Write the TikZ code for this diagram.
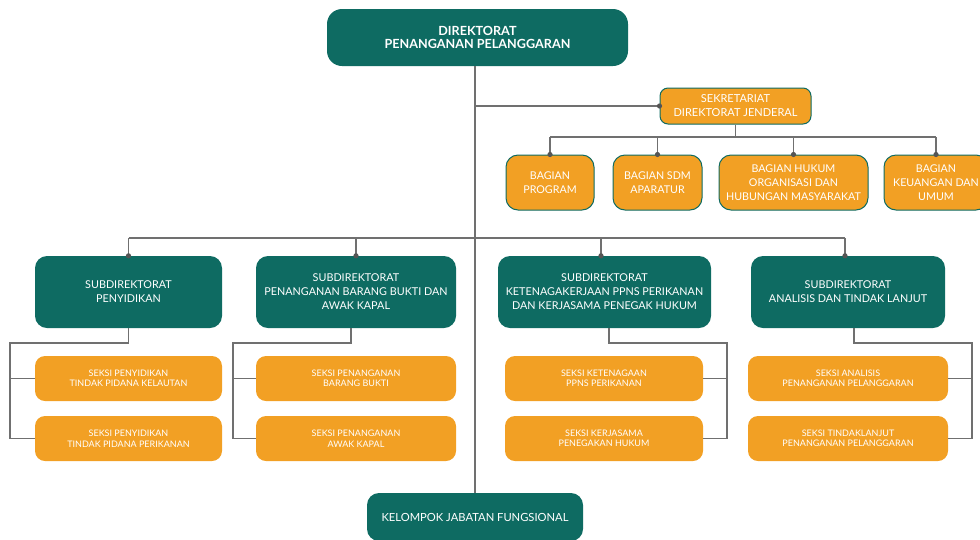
\documentclass[tikz,border=0pt]{standalone}
\usepackage{fontspec}
\setmainfont{Lato}
\definecolor{dteal}{RGB}{14,107,98}
\definecolor{org}{RGB}{242,160,36}
\definecolor{wire}{RGB}{112,112,112}
\definecolor{dotc}{RGB}{85,85,85}
\begin{document}
\begin{tikzpicture}[x=1pt,y=-1pt,
  box/.style={align=center, text=white, inner sep=0pt},
  headbox/.style={box, fill=dteal, rounded corners=15pt, font=\bfseries\fontsize{12.6}{13.5}\selectfont},
  subbox/.style={box, fill=dteal, rounded corners=12pt, minimum height=72pt, font=\fontsize{10.8}{14}\selectfont},
  secbox/.style={box, fill=org, draw=dteal, line width=1pt, rounded corners=8pt, font=\fontsize{11}{14}\selectfont},
  partbox/.style={box, fill=org, draw=dteal, line width=1pt, rounded corners=12pt, minimum height=55pt, font=\fontsize{10.7}{14}\selectfont},
  unitbox/.style={box, fill=org, rounded corners=10pt, minimum height=45pt, font=\fontsize{9}{10.5}\selectfont},
  link/.style={draw=wire, line width=1.2pt},
  joint/.style={fill=dotc}
]
\useasboundingbox (0,0) rectangle (980,539);

% top and bottom units
\node[headbox, minimum width=301pt, minimum height=57pt] (dir) at (477.5,37.5) {DIREKTORAT\\PENANGANAN PELANGGARAN};
\node[subbox, minimum width=216pt, minimum height=48pt, font=\fontsize{11.2}{14}\selectfont] (kel) at (475,517) {KELOMPOK JABATAN FUNGSIONAL};

% secretariat and its divisions
\node[secbox, minimum width=151pt, minimum height=36pt] (sek) at (735.5,106) {SEKRETARIAT\\DIREKTORAT JENDERAL};
\node[partbox, minimum width=88pt] (prog) at (550,182.5) {BAGIAN\\PROGRAM};
\node[partbox, minimum width=89pt] (sdm) at (657.5,182.5) {BAGIAN SDM\\APARATUR};
\node[partbox, minimum width=149pt] (huk) at (793.5,182.5) {BAGIAN HUKUM\\ORGANISASI DAN\\HUBUNGAN MASYARAKAT};
\node[partbox, minimum width=104pt] (keu) at (936,182.5) {BAGIAN\\KEUANGAN DAN\\UMUM};

% sub-directorates
\node[subbox, minimum width=187pt] (peny) at (128.5,292) {SUBDIREKTORAT\\PENYIDIKAN};
\node[subbox, minimum width=200pt] (bar) at (356,292) {SUBDIREKTORAT\\PENANGANAN BARANG BUKTI DAN\\AWAK KAPAL};
\node[subbox, minimum width=213pt] (ket) at (604.5,292) {SUBDIREKTORAT\\KETENAGAKERJAAN PPNS PERIKANAN\\DAN KERJASAMA PENEGAK HUKUM};
\node[subbox, minimum width=194pt] (ana) at (848,292) {SUBDIREKTORAT\\ANALISIS DAN TINDAK LANJUT};

% sections
\node[unitbox, minimum width=187pt] (s11) at (128.5,378.5) {SEKSI PENYIDIKAN\\TINDAK PIDANA KELAUTAN};
\node[unitbox, minimum width=187pt] (s12) at (128.5,438.5) {SEKSI PENYIDIKAN\\TINDAK PIDANA PERIKANAN};
\node[unitbox, minimum width=200pt] (s21) at (356,378.5) {SEKSI PENANGANAN\\BARANG BUKTI};
\node[unitbox, minimum width=200pt] (s22) at (356,438.5) {SEKSI PENANGANAN\\AWAK KAPAL};
\node[unitbox, minimum width=198pt] (s31) at (604,378.5) {SEKSI KETENAGAAN\\PPNS PERIKANAN};
\node[unitbox, minimum width=198pt] (s32) at (604,438.5) {SEKSI KERJASAMA\\PENEGAKAN HUKUM};
\node[unitbox, minimum width=200pt] (s41) at (848,378.5) {SEKSI ANALISIS\\PENANGANAN PELANGGARAN};
\node[unitbox, minimum width=200pt] (s42) at (848,438.5) {SEKSI TINDAKLANJUT\\PENANGANAN PELANGGARAN};

% spine and bus lines
\coordinate (sbus) at (736,137);
\coordinate (mbus) at (475,238);
\coordinate (k1) at ([xshift=-3.5pt]ket.north);
\coordinate (a1) at ([xshift=-3pt]ana.north);
\coordinate (b1) at (10,343);
\coordinate (b2) at (233,343);
\coordinate (b3) at (727,343);
\coordinate (b4) at (972,343);

\draw[link] (kel.north |- dir.south) -- (kel.north);
\draw[link] (kel.north |- sek.west) -- (sek.west);
\draw[link] (sek.south) -- (sek.south |- sbus);
\draw[link] (prog.north |- sbus) -- (keu.north |- sbus);
\foreach \n in {prog,sdm,huk,keu} {
  \draw[link] (\n.north |- sbus) -- (\n.north);
}
\draw[link] (peny.north |- mbus) -- (a1 |- mbus);
\foreach \n in {peny.north,bar.north,k1,a1} {
  \draw[link] (\n |- mbus) -- (\n);
}

% section brackets
\draw[link] (peny.south) |- (b1) |- (s12.west);
\draw[link] (b1 |- s11.west) -- (s11.west);
\draw[link] ([xshift=-5pt]bar.south) |- (b2) |- (s22.west);
\draw[link] (b2 |- s21.west) -- (s21.west);
\draw[link] ([xshift=4.5pt]ket.south) |- (b3) |- (s32.east);
\draw[link] (b3 |- s31.east) -- (s31.east);
\draw[link] ([xshift=6pt]ana.south) |- (b4) |- (s42.east);
\draw[link] (b4 |- s41.east) -- (s41.east);

% junction dots
\foreach \n in {sek.west,prog.north,sdm.north,huk.north,keu.north,peny.north,bar.north,k1,a1} {
  \fill[joint] (\n) circle (2.6pt);
}
\end{tikzpicture}
\end{document}
